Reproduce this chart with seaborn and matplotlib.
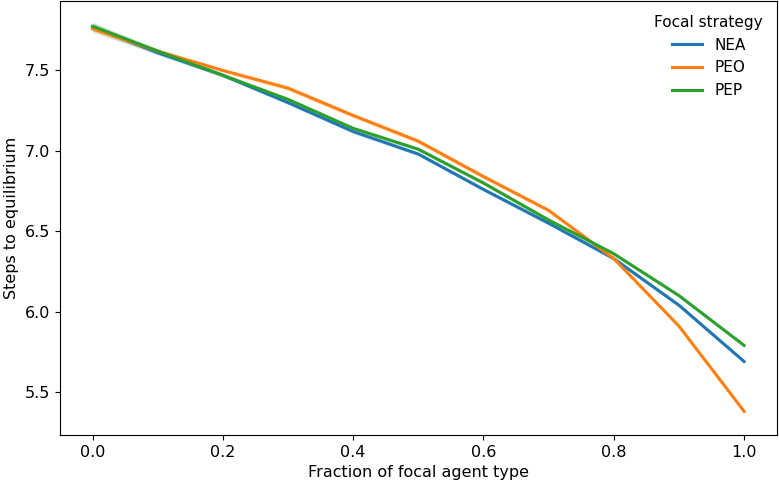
import numpy as np
import pandas as pd
import matplotlib
matplotlib.use("Agg")
import matplotlib.pyplot as plt
import seaborn as sns

fraction = [0.0, 0.1, 0.2, 0.3, 0.4, 0.5, 0.6, 0.7, 0.8, 0.9, 1.0]
strategies = ["NEA", "PEO", "PEP"]
nea = [7.77, 7.61, 7.47, 7.30, 7.12, 6.98, 6.76, 6.55, 6.33, 6.04, 5.69]
peo = [7.76, 7.62, 7.50, 7.39, 7.22, 7.06, 6.84, 6.63, 6.33, 5.91, 5.38]
pep = [7.775, 7.62, 7.47, 7.32, 7.14, 7.01, 6.80, 6.57, 6.36, 6.10, 5.79]
# half-width of the confidence band
nea_ci = [0.025, 0.015, 0.012, 0.012, 0.012, 0.012, 0.012, 0.012, 0.012, 0.012, 0.012]
peo_ci = [0.025, 0.015, 0.012, 0.015, 0.015, 0.015, 0.015, 0.012, 0.012, 0.012, 0.012]
pep_ci = [0.025, 0.015, 0.012, 0.012, 0.012, 0.012, 0.012, 0.012, 0.012, 0.012, 0.012]

df = pd.DataFrame({
    "Fraction of focal agent type": fraction * 3,
    "Steps to equilibrium": nea + peo + pep,
    "ci": nea_ci + peo_ci + pep_ci,
    "Focal strategy": [s for s in strategies for _ in fraction],
})

plt.rcParams["font.size"] = 11.5

fig, ax = plt.subplots(figsize=(7.79, 4.86), dpi=100)
colors = sns.color_palette("tab10", 3)

sns.lineplot(data=df, x="Fraction of focal agent type", y="Steps to equilibrium",
             hue="Focal strategy", palette=colors, linewidth=2.2, ax=ax)

for s, c in zip(strategies, colors):
    sub = df[df["Focal strategy"] == s]
    ax.fill_between(sub["Fraction of focal agent type"],
                    sub["Steps to equilibrium"] - sub["ci"],
                    sub["Steps to equilibrium"] + sub["ci"],
                    color=c, alpha=0.2, linewidth=0)

ax.set_ylim(5.233, 7.929)
ax.set_xticks([0.0, 0.2, 0.4, 0.6, 0.8, 1.0])
leg = ax.legend(title="Focal strategy", frameon=False, loc="upper right",
                fontsize=11, title_fontsize=11)
for line in leg.get_lines():
    line.set_linewidth(2.2)

plt.subplots_adjust(left=0.077, right=0.997, top=0.997, bottom=0.105)
plt.savefig("out.png", dpi=100)
